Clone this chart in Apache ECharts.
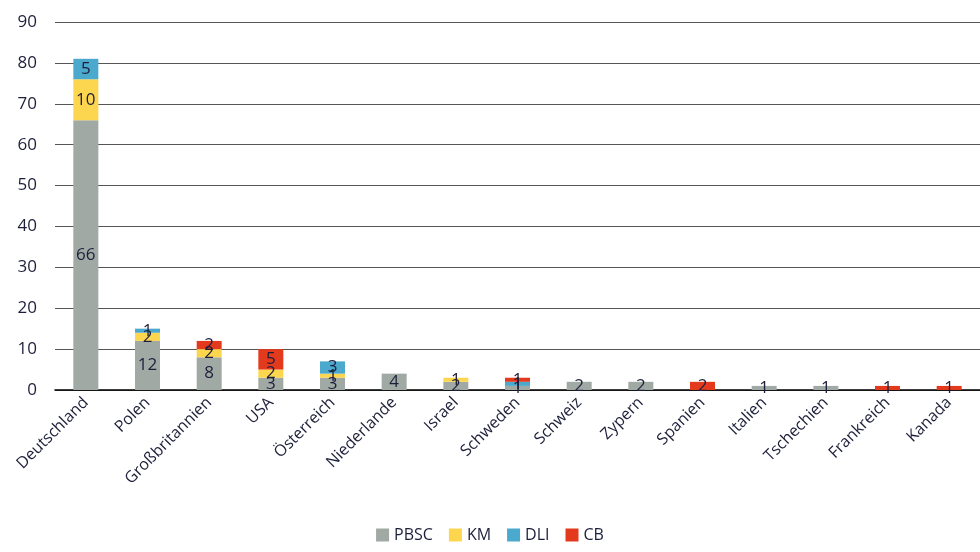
<!DOCTYPE html>
<html>
<head>
<meta charset="utf-8">
<script src="https://cdn.jsdelivr.net/npm/echarts@6/dist/echarts.min.js"></script>
<style>
  html, body { margin: 0; padding: 0; background: #fff; }
  #chart { width: 980px; height: 552px; }
</style>
</head>
<body>
<div id="chart"></div>
<script>
// Länder
const countries = ["Deutschland", "Polen", "Großbritannien", "USA", "Österreich", "Niederlande", "Israel", "Schweden", "Schweiz", "Zypern", "Spanien", "Italien", "Tschechien", "Frankreich", "Kanada"];
// Werte je Serie
const pbsc = [66, 12, 8, 3, 3, 4, 2, 1, 2, 2, 0, 1, 1, 0, 0];
const km   = [10, 2, 2, 2, 1, 0, 1, 0, 0, 0, 0, 0, 0, 0, 0];
const dli  = [5, 1, 0, 0, 3, 0, 0, 1, 0, 0, 0, 0, 0, 0, 0];
const cb   = [0, 0, 2, 5, 0, 0, 0, 1, 0, 0, 2, 0, 0, 1, 1];
const yTicks = [0, 10, 20, 30, 40, 50, 60, 70, 80, 90];

const chart = echarts.init(document.getElementById("chart"));
const font = "'Open Sans', 'Noto Sans', sans-serif";
const textColor = "#1d1f3a";

function makeSeries(name, data, color) {
  return {
    name: name,
    type: "bar",
    stack: "total",
    barWidth: 25,
    data: data,
    itemStyle: { color: color },
    label: {
      show: true,
      position: "inside",
      color: textColor,
      fontFamily: font,
      fontSize: 17,
      formatter: (p) => (p.value ? p.value : ""),
    },
  };
}

const option = {
  animation: false,
  backgroundColor: "#fff",
  textStyle: { fontFamily: font },
  grid: { left: 55, right: 0, top: 22, bottom: 162, containLabel: false },
  legend: {
    bottom: 4,
    left: "center",
    itemWidth: 13,
    itemHeight: 13,
    itemGap: 16,
    icon: "rect",
    textStyle: { color: textColor, fontSize: 16, fontFamily: font },
    data: ["PBSC", "KM", "DLI", "CB"],
  },
  xAxis: {
    type: "category",
    data: countries,
    axisLine: { lineStyle: { color: "#000", width: 1.5 } },
    axisTick: { show: false },
    axisLabel: {
      interval: 0,
      rotate: 45,
      color: textColor,
      fontSize: 16,
      fontFamily: font,
      margin: 10,
    },
  },
  yAxis: {
    type: "value",
    min: yTicks[0],
    max: yTicks[yTicks.length - 1],
    interval: 10,
    axisLine: { show: false },
    axisTick: { show: false },
    axisLabel: { color: textColor, fontSize: 17, fontFamily: font, margin: 18 },
    splitLine: { lineStyle: { color: "#555", width: 1.2 } },
  },
  series: [
    makeSeries("PBSC", pbsc, "#a1a9a4"),
    makeSeries("KM", km, "#fdd64f"),
    makeSeries("DLI", dli, "#4ba9cd"),
    makeSeries("CB", cb, "#e33a1e"),
  ],
};

chart.setOption(option);
</script>
</body>
</html>
